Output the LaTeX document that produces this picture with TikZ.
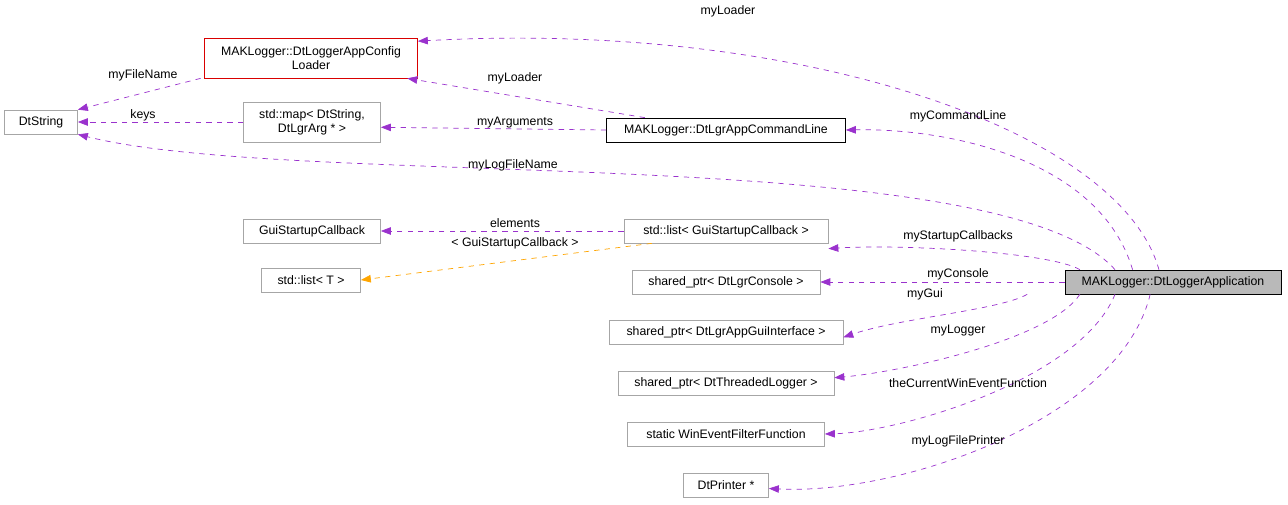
\documentclass[tikz,border=0pt]{standalone}
\usepackage{fontspec}
\setmainfont{Liberation Sans}
\usetikzlibrary{arrows.meta}
\definecolor{edgePurple}{RGB}{154,50,205}
\definecolor{edgeOrange}{RGB}{255,165,0}

\begin{document}
\begin{tikzpicture}[x=0.02cm,y=-0.02cm,font=\fontsize{7}{8}\selectfont]
    \tikzstyle{cls}=[draw=gray!70,rectangle,minimum height=0.48cm,inner xsep=3pt,align=center]
    \tikzstyle{uses}=[draw=edgePurple,dashed,-{Triangle[length=0.2cm,width=0.15cm]}]
    \tikzstyle{tmpl}=[draw=edgeOrange,dashed,-{Triangle[length=0.2cm,width=0.15cm]}]
    \tikzstyle{lbl}=[inner sep=1pt]

    \useasboundingbox (0,0) rectangle (1288,504);

    % classes
    \node[cls, minimum width=1.46cm] (dtString) at (41,122) {DtString};
    \node[cls, draw=red!85!black, minimum width=4.26cm, minimum height=0.8cm] (cfgLoader) at (311,58) {MAKLogger::DtLoggerAppConfig\\Loader};
    \node[cls, minimum width=2.74cm, minimum height=0.8cm] (argMap) at (312,122) {std::map< DtString,\\DtLgrArg * >};
    \node[cls, draw=black, minimum width=4.78cm] (cmdLine) at (726,130) {MAKLogger::DtLgrAppCommandLine};
    \node[cls, minimum width=2.74cm] (guiCb) at (312,231) {GuiStartupCallback};
    \node[cls, minimum width=4.08cm] (cbList) at (726,231) {std::list< GuiStartupCallback >};
    \node[cls, minimum width=1.98cm] (listT) at (311,280) {std::list< T >};
    \node[cls, minimum width=3.76cm] (console) at (726,282) {shared\_ptr< DtLgrConsole >};
    \node[cls, draw=black, fill=gray!55, minimum width=4.32cm] (app) at (1173,282) {MAKLogger::DtLoggerApplication};
    \node[cls, minimum width=4.68cm] (guiIf) at (726,332) {shared\_ptr< DtLgrAppGuiInterface >};
    \node[cls, minimum width=4.32cm] (thrLogger) at (726,383) {shared\_ptr< DtThreadedLogger >};
    \node[cls, minimum width=3.94cm] (winEvent) at (726,434) {static WinEventFilterFunction};
    \node[cls, minimum width=1.70cm] (printer) at (726,485) {DtPrinter *};

    % members of the application
    \draw[uses] ([xshift=-8pt]app.north) .. controls (1120,130) and (800,20) .. ([yshift=-2pt]cfgLoader.north east);
    \draw[uses] ([xshift=-23pt]app.north) .. controls (1100,160) and (950,128) .. (cmdLine.east);
    \draw[uses] ([xshift=-33pt]app.north) .. controls (1000,140) and (300,190) .. (dtString.south east);
    \draw[uses] ([xshift=-53pt]app.north) .. controls (1050,252) and (900,244) .. ([yshift=-3pt]cbList.south east);
    \draw[uses] (app.west) -- (console.east);
    \draw[uses] ([xshift=-83pt]app.south) .. controls (1000,310) and (900,318) .. ([yshift=-3pt]guiIf.east);
    \draw[uses] ([xshift=-53pt]app.south) .. controls (1050,340) and (900,372) .. ([yshift=3pt]thrLogger.east);
    \draw[uses] ([xshift=-33pt]app.south) .. controls (1080,380) and (900,432) .. (winEvent.east);
    \draw[uses] ([xshift=-13pt]app.south) .. controls (1120,420) and (900,495) .. ([yshift=-2pt]printer.east);

    % other members
    \draw[uses] ([xshift=22pt]cmdLine.north west) -- ([xshift=-6pt]cfgLoader.south east);
    \draw[uses] ([xshift=-2pt]cfgLoader.south west) -- (dtString.north east);
    \draw[uses] (argMap.west) -- (dtString.east);
    \draw[uses] (cmdLine.west) -- ([yshift=-3pt]argMap.east);
    \draw[uses] (cbList.west) -- (guiCb.east);
    \draw[tmpl] ([xshift=16pt]cbList.south west) -- (listT.east);

    % labels
    \node[lbl] (lLoader) at (728,11) {myLoader};
    \node[lbl] (lLoader2) at (515,78) {myLoader};
    \node[lbl] (lFileName) at (143,75) {myFileName};
    \node[lbl] (lKeys) at (143,115) {keys};
    \node[lbl] (lArgs) at (515,123) {myArguments};
    \node[lbl] (lCmd) at (958,116) {myCommandLine};
    \node[lbl] (lLogFile) at (513,165) {myLogFileName};
    \node[lbl] (lElems) at (515,223) {elements};
    \node[lbl] (lTmpl) at (515,243) {< GuiStartupCallback >};
    \node[lbl] (lCbs) at (958,236) {myStartupCallbacks};
    \node[lbl] (lConsole) at (958,274) {myConsole};
    \node[lbl] (lGui) at (925,294) {myGui};
    \node[lbl] (lLogger) at (958,331) {myLogger};
    \node[lbl] (lWin) at (968,383) {theCurrentWinEventFunction};
    \node[lbl] (lPrinter) at (958,441) {myLogFilePrinter};
\end{tikzpicture}
\end{document}
